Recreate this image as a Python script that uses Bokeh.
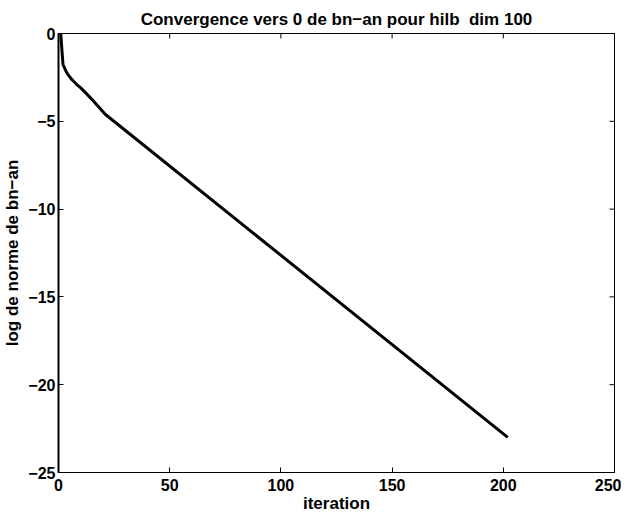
import math
from bokeh.plotting import figure
from bokeh.models import Range1d, FixedTicker
from bokeh.embed import file_html
from bokeh.resources import INLINE

# data
iterations = [1, 2, 3, 4, 6, 8, 10, 12, 15, 18, 21, 202]
log_norm = [0.0, -1.75, -2.05, -2.3, -2.62, -2.88, -3.1, -3.35, -3.75, -4.17, -4.6, -23.0]

x_ticks = [0, 50, 100, 150, 200, 250]
y_ticks = [-25, -20, -15, -10, -5, 0]

title_text = "Convergence vers 0 de bn\u2212an pour hilb \u00a0dim 100"
x_label = "iteration"
y_label = "log de norme de bn\u2212an"

FONT = "Liberation Sans"

p = figure(width=621, height=515, output_backend="svg", toolbar_location=None,
           x_range=Range1d(0, 250), y_range=Range1d(-25, 0),
           min_border_left=55, min_border_right=7, min_border_top=33, min_border_bottom=43)
p.background_fill_color = "white"
p.border_fill_color = "white"
p.outline_line_color = "black"
p.outline_line_width = 1
p.xgrid.visible = False
p.ygrid.visible = False

p.title.text = title_text
p.title.align = "center"
p.title.text_font = FONT
p.title.text_font_size = "17px"
p.title.text_font_style = "bold"
p.title.text_color = "black"
p.title.offset = 0
p.title.standoff = 10

def style_axis(ax, ticks):
    ax.ticker = FixedTicker(ticks=ticks)
    ax.major_tick_in = 5
    ax.major_tick_out = 0
    ax.minor_tick_line_color = None
    ax.major_tick_line_color = "black"
    ax.axis_line_color = "black"
    ax.major_label_text_font = FONT
    ax.major_label_text_font_style = "bold"
    ax.major_label_text_color = "black"
    ax.major_label_text_font_size = "16px"
    ax.major_label_overrides = {t: str(t).replace("-", "\u2212") for t in ticks}
    ax.axis_label_text_font = FONT
    ax.axis_label_text_font_size = "17px"
    ax.axis_label_text_font_style = "bold"
    ax.axis_label_text_color = "black"

xa = p.xaxis[0]
ya = p.yaxis[0]
style_axis(xa, x_ticks)
style_axis(ya, y_ticks)
xa.axis_label = x_label
ya.axis_label = y_label
xa.major_label_standoff = 6
xa.axis_label_standoff = 0
ya.major_label_standoff = 3
ya.axis_label_standoff = 3
ya.axis_line_width = 2

# mirrored inward ticks on the top and right edges (box on)
p.scatter(x=x_ticks, y=[p.y_range.end] * len(x_ticks), marker="dash",
          angle=math.pi / 2, size=10, line_color="black", line_width=1)
p.scatter(x=[p.x_range.end] * len(y_ticks), y=y_ticks, marker="dash",
          size=10, line_color="black", line_width=1)

p.line(iterations, log_norm, line_color="black", line_width=3)

open("out.html", "w").write(file_html(p, INLINE))
